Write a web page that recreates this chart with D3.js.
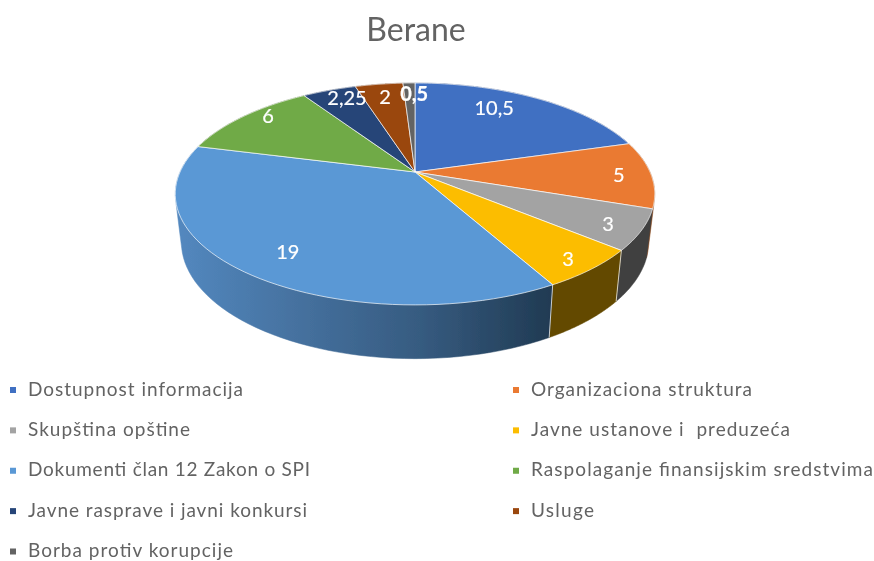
<!DOCTYPE html>
<html><head><meta charset="utf-8">
<script src="https://cdn.jsdelivr.net/npm/d3@7/dist/d3.min.js"></script>
<style>html,body{margin:0;padding:0;background:#fff}svg{display:block}text{font-family:Lato,"Open Sans",sans-serif}</style>
</head><body><svg id="c" width="874" height="561"></svg>
<script>
const title = "Berane";
const categories = ["Dostupnost informacija","Organizaciona struktura","Skupština opštine","Javne ustanove i  preduzeća","Dokumenti član 12 Zakon o SPI","Raspolaganje finansijskim sredstvima","Javne rasprave i javni konkursi","Usluge","Borba protiv korupcije"];
const values = [10.5,5,3,3,19,6,2.25,2,0.5];
const valueLabels = ["10,5","5","3","3","19","6","2,25","2","0,5"];
const colors = ["#4070C2","#EA7A30","#A3A3A3","#FCBD00","#5A98D5","#6FAA46","#264478","#9A460E","#636363"];
const sideColors = ["#2a4478","#8f4b1d","#404040","#644a00","url(#blueSide)","#436829","#16284a","#5e2b08","#3b3b3b"];
const labelFraction = [.397,.517,.56,.543,.485,.605,.68,.517,.92];
const labelRadius = [.781,.863,.871,.899,.806,.911,.872,.83,.856];
const legendTextWidth = [215,221,162,259,282,342,279,63,205];

const svg = d3.select("#c");
const defs = svg.append("defs");
const grad = defs.append("linearGradient").attr("id","blueSide").attr("gradientUnits","userSpaceOnUse")
  .attr("x1",177).attr("x2",553).attr("y1",0).attr("y2",0);
[[0,"#5388bf"],[.35,"#446f9c"],[.65,"#365b80"],[1,"#203a52"]].forEach(s=>grad.append("stop").attr("offset",s[0]).attr("stop-color",s[1]));
defs.append("filter").attr("id","soft").attr("x","0").attr("y","0").attr("width","874").attr("height","561").attr("filterUnits","userSpaceOnUse")
  .append("feGaussianBlur").attr("stdDeviation",0.7);

const root = svg.append("g").attr("filter","url(#soft)");
const pie = d3.pie().value(d=>d).sort(null).startAngle(0).endAngle(2*Math.PI);
const arcs = pie(values);

// perspective-projected disc: top face and bottom face
const project = (p,a,r=1)=>{const u=r*Math.sin(a),v=-r*Math.cos(a),w=1-p.k*v;return [p.cx+p.A*u/w,p.y0+p.B*v/w];};
const topFace = {cx:415,y0:172,A:235,B:106.6,k:0.198};
const botFace = {cx:415,y0:219,A:229,B:112,k:0.198};
const line = d3.line();
const samples = d=>d3.range(0,61).map(i=>d.startAngle+(d.endAngle-d.startAngle)*i/60);

// sides, back to front: the hull of a slice's two arcs gives the straight silhouette edges
const order = d3.range(arcs.length).sort((a,b)=>{
  const m=i=>-Math.cos((arcs[i].startAngle+arcs[i].endAngle)/2);return m(a)-m(b);});
root.append("g").selectAll("path").data(order).join("path")
  .attr("d",i=>{const s=samples(arcs[i]);return line(d3.polygonHull(s.map(a=>project(topFace,a)).concat(s.map(a=>project(botFace,a)))))+"Z";})
  .attr("fill",i=>sideColors[i]).attr("stroke",i=>sideColors[i]).attr("stroke-width",0.5);
// light seams on the visible side edges
root.append("g").selectAll("line").data([arcs[3].startAngle,arcs[4].startAngle]).join("line")
  .attr("x1",a=>project(topFace,a)[0]).attr("y1",a=>project(topFace,a)[1])
  .attr("x2",a=>project(botFace,a)[0]).attr("y2",a=>project(botFace,a)[1])
  .attr("stroke","#fff").attr("stroke-width",0.9).attr("stroke-opacity",.8);
// top
root.append("g").selectAll("path").data(arcs).join("path")
  .attr("d",d=>line([[topFace.cx,topFace.y0]].concat(samples(d).map(a=>project(topFace,a))))+"Z")
  .attr("fill",(d,i)=>colors[i]).attr("stroke","#fff").attr("stroke-width",0.9).attr("stroke-opacity",.75).attr("stroke-linejoin","round");
// value labels
root.append("g").selectAll("text").data(arcs).join("text")
  .attr("transform",(d,i)=>{const a=d.startAngle+(d.endAngle-d.startAngle)*labelFraction[i];return `translate(${project(topFace,a,labelRadius[i])})`;})
  .attr("text-anchor","middle").attr("dy","0.35em").attr("fill","#fff").attr("font-size",20)
  .attr("font-weight",(d,i)=>i===8?700:400).attr("stroke","#fff").attr("stroke-width",.2).text((d,i)=>valueLabels[i]);
// title
root.append("text").attr("x",416).attr("y",41).attr("text-anchor","middle").attr("fill","#636363").attr("font-size",32).text(title);
// legend
const rowY = d3.scalePoint().domain(d3.range(5)).range([390,551.5]);
const colX = [10,513];
const item = root.append("g").selectAll("g").data(categories).join("g")
  .attr("transform",(d,i)=>`translate(${colX[i%2]},${rowY(Math.floor(i/2))})`);
item.append("rect").attr("x",0).attr("y",-3).attr("width",6).attr("height",6).attr("fill",(d,i)=>colors[i]);
item.append("text").attr("x",18).attr("dy","0.3em").attr("fill","#636363").attr("font-size",19)
  .attr("textLength",(d,i)=>legendTextWidth[i]).attr("lengthAdjust","spacing").attr("xml:space","preserve").text(d=>d);
</script></body></html>
